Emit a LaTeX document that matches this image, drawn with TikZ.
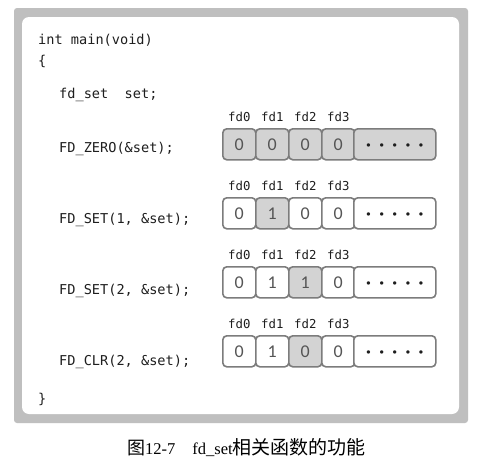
\documentclass[tikz,border=0pt]{standalone}
\usepackage{fontspec}
\setmainfont{Liberation Serif}
\setmonofont{DejaVu Sans Mono}
\newfontfamily\cjk{Noto Sans CJK SC}
\newfontfamily\cellfont{Carlito}
\definecolor{framegray}{HTML}{BFBFBF}
\definecolor{cellgray}{HTML}{D3D3D3}
\definecolor{cellline}{HTML}{7C7C7C}
\definecolor{digitcol}{HTML}{555555}
\definecolor{codecol}{HTML}{1E1E1E}
\tikzset{
  codetext/.style={anchor=base west, inner sep=0pt, text=codecol, font=\ttfamily\fontsize{13.6}{14}\selectfont},
  fdlabel/.style={anchor=base, inner sep=0pt, text=codecol, font=\ttfamily\fontsize{12.3}{13}\selectfont},
  cell/.style={draw=cellline, line width=1.6pt, rounded corners=4pt, minimum width=33pt, minimum height=31pt, inner sep=0pt, anchor=north west, text=digitcol, font=\cellfont\fontsize{18}{18}\selectfont, fill=white},
  wide/.style={cell, minimum width=82pt, text=codecol},
  on/.style={fill=cellgray},
}
\newcommand{\celldots}{\vphantom{0}\textbf{·\hspace{8.3pt}·\hspace{8.3pt}·\hspace{8.3pt}·\hspace{8.3pt}·}}
\begin{document}
\begin{tikzpicture}[x=1pt,y=-1pt]
\useasboundingbox (0,0) rectangle (488,471);
\fill[white] (0,0) rectangle (488,471);
% frames
\fill[framegray, rounded corners=3pt] (14,8) rectangle (468,423);
\fill[white, rounded corners=7pt] (22,17) rectangle (459,414);
% code
\node[codetext] (l1) at (38,45) {int main(void)};
\node[codetext] (l2) at (38,65) {\{};
\node[codetext] (l3) at (59,98) {fd\_set\ \ set;};
\node[codetext] (c1) at (59,152) {FD\_ZERO(\&set);};
\node[codetext] (c2) at (59,223) {FD\_SET(1, \&set);};
\node[codetext] (c3) at (59,294) {FD\_SET(2, \&set);};
\node[codetext] (c4) at (59,365) {FD\_CLR(2, \&set);};
\node[codetext] (l9) at (38,403) {\}};
% rows
\foreach \r/\top/\va/\vb/\vc/\vd/\ga/\gb/\gc/\gd/\ge in {
  1/128/0/0/0/0/on/on/on/on/on,
  2/197/0/1/0/0//on///,
  3/266/0/1/1/0///on//,
  4/335/0/1/0/0///on//}{
  \node[cell,\ga] (r\r c0) at (222,\top) {\va};
  \node[cell,\gb] (r\r c1) at (255,\top) {\vb};
  \node[cell,\gc] (r\r c2) at (288,\top) {\vc};
  \node[cell,\gd] (r\r c3) at (321,\top) {\vd};
  \node[wide,\ge] (r\r c4) at (353,\top) {\celldots};
  \foreach \k in {0,1,2,3}{
    \node[fdlabel] (r\r f\k) at ([yshift=7pt]r\r c\k.north) {fd\k};
  }
}
% caption
\node[anchor=base west, inner sep=0pt, font=\fontsize{16.5}{18}\selectfont] (cap) at (127,454)
  {{\cjk\fontsize{18}{18}\selectfont 图}12-7\hspace{17pt}fd\_set{\cjk\fontsize{19}{18}\selectfont 相关函数的功能}};
\end{tikzpicture}
\end{document}
